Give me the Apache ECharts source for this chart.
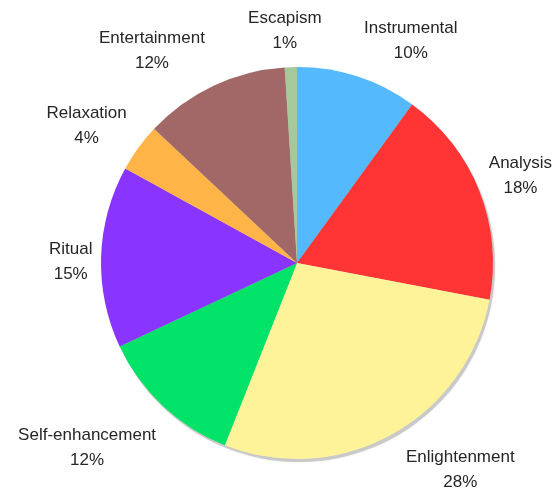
<!DOCTYPE html>
<html>
<head>
<meta charset="utf-8">
<style>
  html, body { margin: 0; padding: 0; background: #ffffff; }
  #chart { width: 555px; height: 490px; }
</style>
<script src="https://cdn.jsdelivr.net/npm/echarts@6/dist/echarts.min.js"></script>
</head>
<body>
<div id="chart"></div>
<script>
// Share of each motive, clockwise from 12 o'clock (percent)
const categories = ['Instrumental', 'Analysis', 'Enlightenment', 'Self-enhancement',
                    'Ritual', 'Relaxation', 'Entertainment', 'Escapism'];
const shares = [10, 18, 28, 12, 15, 4, 12, 1];
const colors = ['#55b9fe', '#ff3434', '#fff399', '#00e368',
                '#8a34ff', '#ffb447', '#a26767', '#a6c99c'];
// small per-label nudges, in px
const labelNudgeX = [5, -5, 7, 4, 7, 1, -2, -2];
const labelNudgeY = [3, 0, -1, 12, 6, 2, 2, 4];

const CENTER = [297, 263];
const RADIUS = 196;
const LABEL_RADIUS = RADIUS * 1.08;

const total = shares.reduce((a, b) => a + b, 0);
// mid-angle of each slice, measured clockwise from the top
const midAngles = [];
let acc = 0;
shares.forEach(v => {
  midAngles.push(((acc + v / 2) / total) * Math.PI * 2);
  acc += v;
});

const chart = echarts.init(document.getElementById('chart'), null, { renderer: 'canvas' });

chart.setOption({
  animation: false,
  backgroundColor: '#ffffff',
  series: [
    {
      // drop shadow under the pie
      type: 'pie',
      silent: true,
      center: [CENTER[0] + 2, CENTER[1] + 3],
      radius: RADIUS,
      label: { show: false },
      labelLine: { show: false },
      itemStyle: { color: '#c9c9c9', shadowColor: 'rgba(0,0,0,0.15)', shadowBlur: 2 },
      data: [{ value: 1, name: '' }],
      z: 1
    },
    {
      type: 'pie',
      center: CENTER,
      radius: RADIUS,
      startAngle: 90,
      clockwise: true,
      avoidLabelOverlap: false,
      z: 2,
      itemStyle: { borderWidth: 0 },
      label: {
        show: true,
        position: 'outside',
        fontFamily: 'Liberation Sans, Arial, sans-serif',
        fontSize: 17,
        lineHeight: 25,
        color: '#262626',
        formatter: p => p.name + '\n' + p.value + '%'
      },
      labelLine: { show: false },
      labelLayout: function (params) {
        const i = params.dataIndex;
        const a = midAngles[i];
        const s = Math.sin(a), c = Math.cos(a);
        const ax = CENTER[0] + LABEL_RADIUS * s;
        const ay = CENTER[1] - LABEL_RADIUS * c;
        const w = params.labelRect.width, h = params.labelRect.height;
        const hx = Math.max(-1, Math.min(1, 3 * s));
        return {
          x: ax + hx * w / 2 + labelNudgeX[i],
          y: ay - c * h / 2 + labelNudgeY[i],
          align: 'center',
          verticalAlign: 'middle'
        };
      },
      data: categories.map((name, i) => ({
        name: name,
        value: shares[i],
        itemStyle: { color: colors[i] }
      }))
    }
  ]
});
</script>
</body>
</html>
